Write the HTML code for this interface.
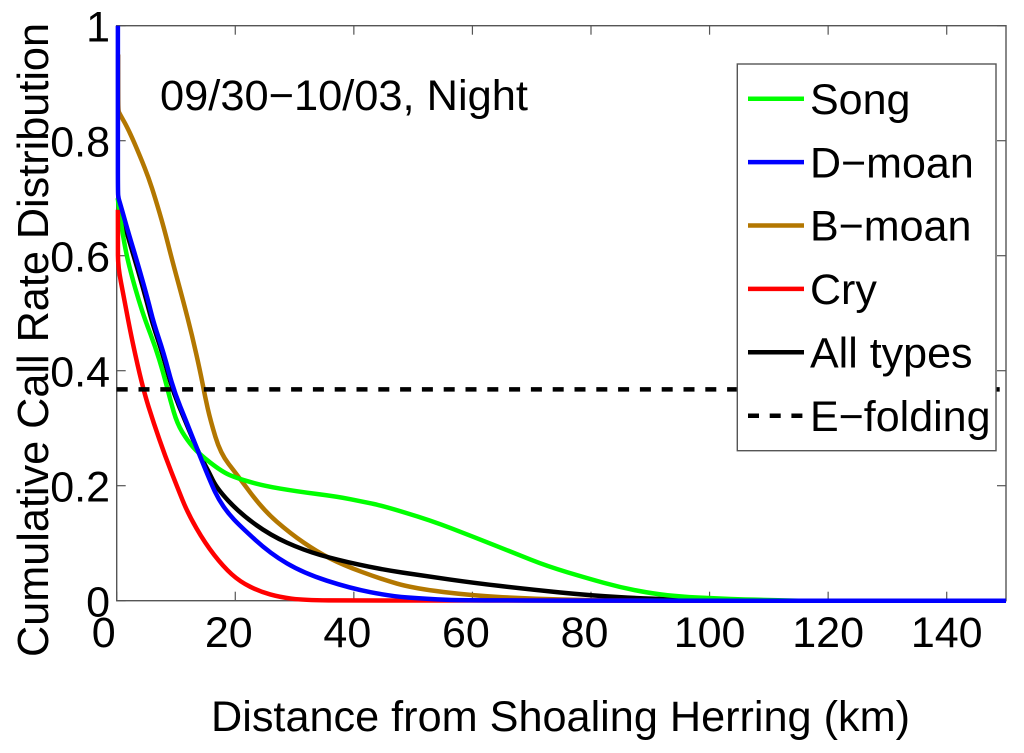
<!DOCTYPE html>
<html>
<head>
<meta charset="utf-8">
<style>
html,body{margin:0;padding:0;background:#fff;}
svg{display:block;}
text{font-family:"Liberation Sans",sans-serif;fill:#000;}
</style>
</head>
<body>
<svg id="chart" width="1024" height="753" viewBox="0 0 1024 753" xmlns="http://www.w3.org/2000/svg">
<rect x="0" y="0" width="1024" height="753" fill="#fff"/>
<g id="axes"></g>
<g id="series"></g>
<text x="160" y="110" font-size="43" textLength="368" lengthAdjust="spacingAndGlyphs">09/30−10/03, Night</text>
<text x="211" y="731" font-size="43" textLength="699" lengthAdjust="spacingAndGlyphs">Distance from Shoaling Herring (km)</text>
<text transform="translate(48,657) rotate(-90)" x="0" y="0" font-size="44" textLength="634" lengthAdjust="spacingAndGlyphs">Cumulative Call Rate Distribution</text>
<g id="legend"></g>
</svg>
<script>
const xTicks = [0, 20, 40, 60, 80, 100, 120, 140];
const yTicks = [0, 0.2, 0.4, 0.6, 0.8, 1];
const yTickLabels = ['0', '0.2', '0.4', '0.6', '0.8', '1'];
const eFolding = 0.3675;

const brownX = [0.25, 0.25, 0.3, 0.44, 2.02, 3.98, 5.4, 6.5, 7.93, 9.33, 11.2, 12.7, 14.1, 14.9, 15.8, 17.5, 20.3, 24.7, 29.3, 33.8, 38.2, 44.5, 50, 60.2, 70, 80, 90];
const brownY = [0.95, 0.87, 0.852, 0.848, 0.819, 0.772, 0.735, 0.7, 0.65, 0.593, 0.522, 0.462, 0.398, 0.355, 0.314, 0.256, 0.219, 0.158, 0.117, 0.085, 0.062, 0.038, 0.0216, 0.0087, 0.0035, 0.0005, 0];

const blackX = [0.2, 0.3, 1.8, 3.5, 5, 6, 7.7, 9.4, 11.7, 13.9, 15.5, 16.9, 20.8, 25.9, 31.5, 37.2, 44.5, 52, 60.2, 69.3, 80, 89.5, 95, 105];
const blackY = [0.7, 0.695, 0.636, 0.578, 0.523, 0.483, 0.431, 0.366, 0.309, 0.255, 0.225, 0.195, 0.152, 0.114, 0.088, 0.071, 0.0546, 0.043, 0.031, 0.02, 0.009, 0.0035, 0.0024, 0];

const greenX = [0.2, 0.3, 1.45, 2.58, 3.7, 4.8, 6.5, 7.9, 9.04, 10.2, 11.9, 13.8, 17.8, 20.3, 24.7, 30.4, 37.2, 41.6, 44.5, 52.9, 60.2, 67, 72.6, 79.4, 85, 90.6, 95.2, 100.7, 106.4, 115];
const greenY = [0.7, 0.685, 0.61, 0.563, 0.523, 0.488, 0.442, 0.395, 0.349, 0.308, 0.279, 0.256, 0.224, 0.213, 0.2, 0.19, 0.181, 0.172, 0.166, 0.14, 0.111, 0.083, 0.06, 0.039, 0.023, 0.012, 0.007, 0.004, 0.002, 0];

const redX = [0.2, 0.2, 0.22, 1.18, 2.58, 4.5, 6.24, 8.15, 10.2, 12, 14.9, 18, 20.8, 24.2, 27.6, 31.5, 40, 150];
const redY = [0.68, 0.62, 0.581, 0.529, 0.453, 0.366, 0.309, 0.252, 0.198, 0.152, 0.1, 0.059, 0.033, 0.0157, 0.006, 0.001, 0, 0];

const blueX = [0.2, 0.2, 0.2, 0.2, 0.3, 0.6, 2, 3.7, 5.28, 6.24, 7.93, 9.6, 11.85, 14.1, 16.1, 17.2, 18.8, 20.8, 25.9, 31.5, 39.4, 46.2, 52, 60, 150];
const blueY = [1, 0.9, 0.8, 0.71, 0.7, 0.69, 0.639, 0.581, 0.523, 0.483, 0.431, 0.366, 0.309, 0.25, 0.2, 0.176, 0.152, 0.13, 0.082, 0.048, 0.0216, 0.008, 0.003, 0, 0];

const legendLabels = ['Song', 'D−moan', 'B−moan', 'Cry', 'All types', 'E−folding'];
const legendColors = ['#00ff00', '#0000ff', '#b37700', '#ff0000', '#000000', '#000000'];

const NS = 'http://www.w3.org/2000/svg';
const plotL = 116.7, plotR = 1006, plotT = 25.7, plotB = 600.7;
const xMax = 150, yMax = 1;
function xs(v) { return plotL + (plotR - plotL) * v / xMax; }
function ys(v) { return plotB - (plotB - plotT) * v / yMax; }

function mk(tag, attrs, parent, text) {
  const el = document.createElementNS(NS, tag);
  for (const k in attrs) el.setAttribute(k, attrs[k]);
  if (text !== undefined) el.textContent = text;
  parent.appendChild(el);
  return el;
}

const axes = document.getElementById('axes');
const seriesG = document.getElementById('series');
const legendG = document.getElementById('legend');
const axisColor = '#555';

const frame = mk('rect', {x: plotL, y: plotT, width: plotR - plotL, height: plotB - plotT, fill: 'none', stroke: axisColor, 'stroke-width': 1.4}, axes);



xTicks.forEach(function (t) {
  const x = xs(t);
  const b = mk('line', {x1: x, x2: x, y1: plotB, y2: plotB - 9, stroke: axisColor, 'stroke-width': 1.2}, axes);
  
  
  const a = mk('line', {x1: x, x2: x, y1: plotT, y2: plotT + 9, stroke: axisColor, 'stroke-width': 1.2}, axes);
  
  
  const s = String(t);
  const lab = mk('text', {x: x - (3 - s.length) * 6.5, y: 647, 'font-size': 43, 'text-anchor': 'middle'}, axes, s);
  
  
});

yTicks.forEach(function (t, i) {
  const y = ys(t);
  const b = mk('line', {x1: plotL, x2: plotL + 9, y1: y, y2: y, stroke: axisColor, 'stroke-width': 1.2}, axes);
  
  
  const a = mk('line', {x1: plotR, x2: plotR - 9, y1: y, y2: y, stroke: axisColor, 'stroke-width': 1.2}, axes);
  
  
  const lab = mk('text', {x: 110, y: y + 16, 'font-size': 43, 'text-anchor': 'end'}, axes, yTickLabels[i]);
  
  
});

function curvePath(X, Y) {
  const p = X.map(function (v, i) { return [xs(v), ys(Y[i])]; });
  let d = 'M' + p[0][0].toFixed(2) + ' ' + p[0][1].toFixed(2);
  for (let i = 1; i < p.length - 1; i++) {
    const mx = (p[i][0] + p[i + 1][0]) / 2, my = (p[i][1] + p[i + 1][1]) / 2;
    d += 'Q' + p[i][0].toFixed(2) + ' ' + p[i][1].toFixed(2) + ' ' + mx.toFixed(2) + ' ' + my.toFixed(2);
  }
  const l = p[p.length - 1];
  d += 'L' + l[0].toFixed(2) + ' ' + l[1].toFixed(2);
  return d;
}

function drawCurve(X, Y, color, name) {
  const el = mk('path', {d: curvePath(X, Y), fill: 'none', stroke: color, 'stroke-width': 4.5, 'stroke-linejoin': 'round'}, seriesG);
  
  
}

drawCurve(brownX, brownY, legendColors[2], 'b-moan-line');
drawCurve(blackX, blackY, legendColors[4], 'all-types-line');
drawCurve(greenX, greenY, legendColors[0], 'song-line');
drawCurve(redX, redY, legendColors[3], 'cry-line');
const ef = mk('line', {x1: xs(0), x2: 1000, y1: ys(eFolding), y2: ys(eFolding), stroke: '#000', 'stroke-width': 4.5, 'stroke-dasharray': '11 10.8'}, seriesG);


drawCurve(blueX, blueY, legendColors[1], 'd-moan-line');

const lbox = mk('rect', {x: 737.3, y: 64, width: 258.7, height: 386.7, fill: '#fff', stroke: axisColor, 'stroke-width': 1.4}, legendG);



legendLabels.forEach(function (label, i) {
  const ly = 98.7 + i * 63.4;
  const ln = mk('line', {x1: 748, x2: 804, y1: ly, y2: ly, stroke: legendColors[i], 'stroke-width': 4.5}, legendG);
  if (i === 5) ln.setAttribute('stroke-dasharray', '11 10.7');
  
  
  const tx = mk('text', {x: 810, y: 114 + i * 63.35, 'font-size': 43}, legendG, label);
  
  
});
</script>
</body>
</html>
